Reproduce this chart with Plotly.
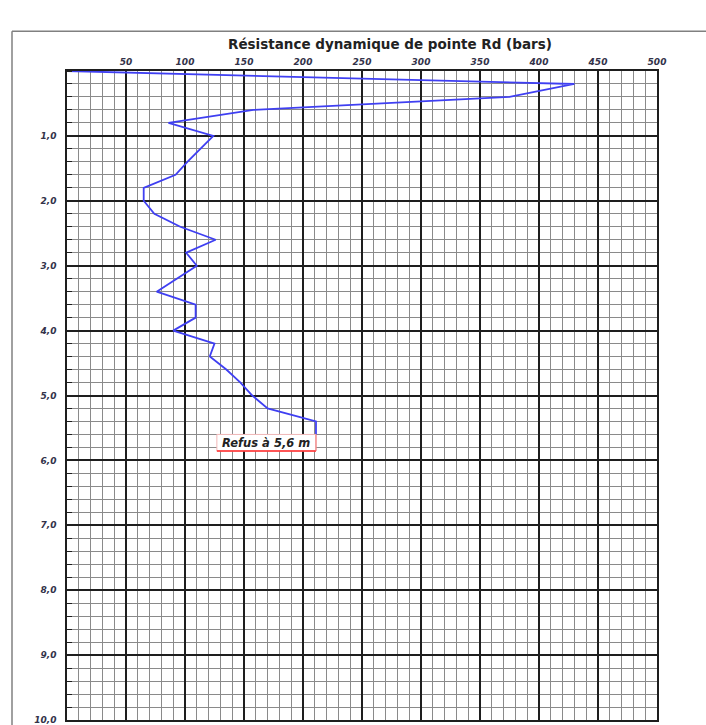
import plotly.graph_objects as go

# Data
depth_m = [0, 0.2, 0.4, 0.6, 0.8, 1.0, 1.2, 1.4, 1.6, 1.8, 2.0, 2.2, 2.4, 2.6, 2.8,
           3.0, 3.2, 3.4, 3.6, 3.8, 4.0, 4.2, 4.4, 4.6, 4.8, 5.0, 5.2, 5.4, 5.6]
rd_bars = [0, 430, 375, 158, 86, 124, 113, 102, 92, 65, 65, 74, 96, 126, 101,
           110, 93, 76, 109, 109, 90, 125, 121, 135, 147, 157, 170, 211, 211]

x_tickvals = [50, 100, 150, 200, 250, 300, 350, 400, 450, 500]
y_tickvals = [1, 2, 3, 4, 5, 6, 7, 8, 9, 10]
y_ticktext = ["1,0", "2,0", "3,0", "4,0", "5,0", "6,0", "7,0", "8,0", "9,0", "10,0"]

title_text = "Résistance dynamique de pointe Rd (bars)"
refus_text = "Refus à 5,6 m"
refus_depth = 5.6
refus_rd = 211

W, H = 706, 725
L, R, T, B = 67, 49, 71, 0
pw, ph = W - L - R, H - T - B


def px(x):
    return (x - L) / pw


def py(y):
    return (H - B - y) / ph


fig = go.Figure()
fig.add_trace(go.Scatter(
    x=rd_bars, y=depth_m, mode="lines",
    line=dict(color="#3f3ff2", width=1.8),
    hoverinfo="skip", showlegend=False,
))

tick_font = dict(family="DejaVu Sans", size=9, color="#33334a", weight="bold", style="italic")

fig.update_xaxes(
    range=[0, 500], side="top", tickvals=x_tickvals, ticks="",
    tickfont=tick_font, ticklabelstandoff=1, ticklabeloverflow="allow",
    showgrid=True, gridcolor="#1e1e1e", gridwidth=2,
    minor=dict(dtick=10, showgrid=True, gridcolor="#8a8a8a", gridwidth=1, ticks=""),
    showline=True, linecolor="#1e1e1e", linewidth=1.5, mirror=True, zeroline=False,
)
fig.update_yaxes(
    range=[10, 0], tickvals=y_tickvals, ticktext=y_ticktext, ticks="",
    tickfont=tick_font, ticklabelstandoff=7, ticklabeloverflow="allow",
    showgrid=True, gridcolor="#1e1e1e", gridwidth=2,
    minor=dict(dtick=0.2, showgrid=True, gridcolor="#8a8a8a", gridwidth=1,
               ticks="inside", ticklen=5, tickcolor="#1e1e1e", tickwidth=1.2),
    showline=True, linecolor="#1e1e1e", linewidth=1.5, mirror=True, zeroline=False,
)

box_h = 0.255  # label box height in depth units (style)
box_w = 84     # label box width in bar units (style)

shapes = [
    # outer frame
    dict(type="line", xref="paper", yref="paper", x0=px(12), x1=px(712), y0=py(31), y1=py(31),
         line=dict(color="#808080", width=1.5)),
    dict(type="line", xref="paper", yref="paper", x0=px(12), x1=px(12), y0=py(31), y1=py(735),
         line=dict(color="#808080", width=1.5)),
    # label box
    dict(type="rect", xref="x", yref="y", x0=refus_rd - box_w, x1=refus_rd,
         y0=refus_depth, y1=refus_depth + box_h, fillcolor="white",
         line=dict(color="#f2b8b8", width=1), layer="above"),
    dict(type="line", xref="x", yref="y", x0=refus_rd - box_w, x1=refus_rd,
         y0=refus_depth + box_h, y1=refus_depth + box_h,
         line=dict(color="#ff2a2a", width=1.5), layer="above"),
    dict(type="line", xref="x", yref="y", x0=refus_rd, x1=refus_rd,
         y0=refus_depth, y1=refus_depth + box_h,
         line=dict(color="#f07070", width=1), layer="above"),
]
fig.update_layout(shapes=shapes)

fig.add_annotation(
    x=px(390), y=py(44), xref="paper", yref="paper", xanchor="center", yanchor="middle",
    text=title_text, showarrow=False,
    font=dict(family="DejaVu Sans", size=13.5, color="#222222", weight="bold"),
)

fig.add_annotation(
    x=refus_rd - box_w / 2, y=refus_depth + box_h / 2, xref="x", yref="y",
    xanchor="center", yanchor="middle",
    text=refus_text, showarrow=False,
    font=dict(family="DejaVu Sans", size=11.5, color="#222222", weight="bold", style="italic"),
)

fig.update_layout(
    width=W, height=H, margin=dict(l=L, r=R, t=T, b=B),
    paper_bgcolor="white", plot_bgcolor="white",
)

fig.write_html("out.html", config={"displayModeBar": False},
               post_script="document.body.style.margin='0';")
